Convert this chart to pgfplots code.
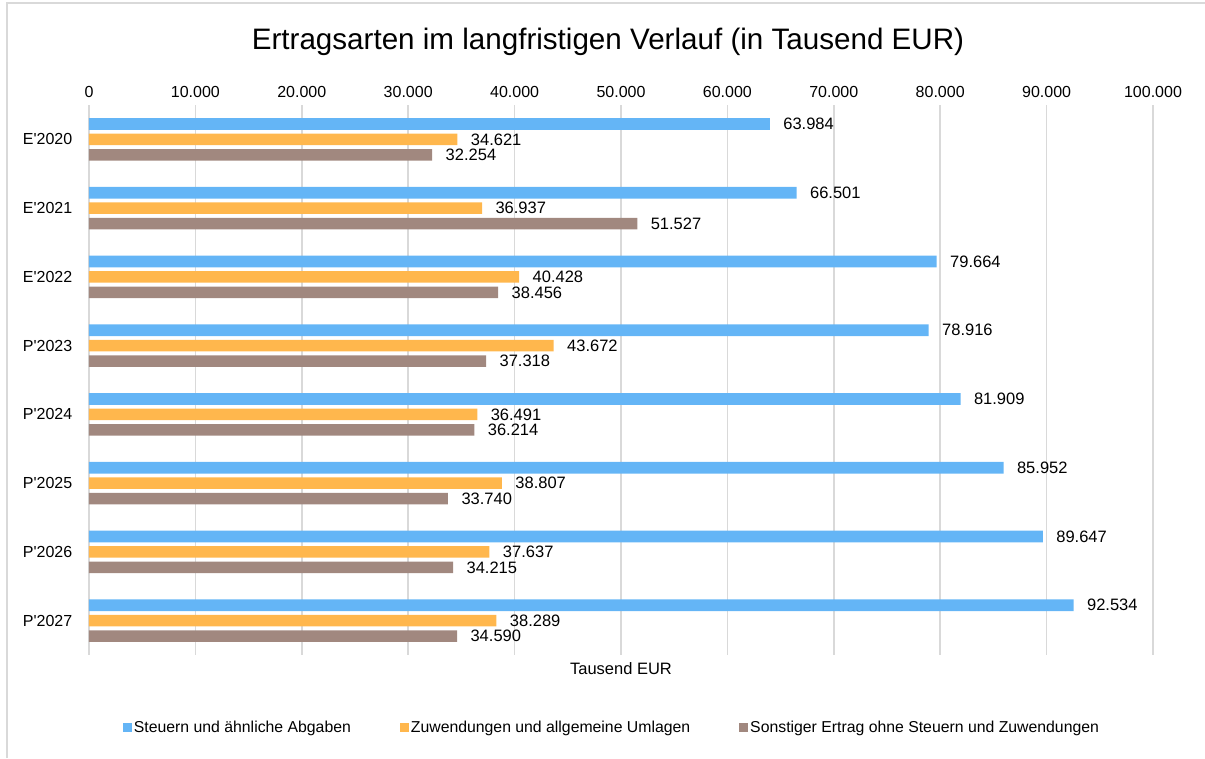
\documentclass[border=0pt]{standalone}
\usepackage{pgfplots}
\pgfplotsset{compat=1.18}
\usepackage{fontspec}
\setmainfont{Liberation Sans}
\definecolor{cblue}{HTML}{64B5F6}
\definecolor{corange}{HTML}{FFB74D}
\definecolor{cbrown}{HTML}{A1887F}
\definecolor{gridgray}{HTML}{D9D9D9}
\newcommand{\fs}{\fontsize{16.5}{19}\selectfont}
\newcommand{\fst}{\fontsize{16}{19}\selectfont}
\newcommand{\fsl}{\fontsize{15.8}{19}\selectfont}
\begin{document}
\begin{tikzpicture}
\begin{axis}[
  name=ax,
  scale only axis, width=1064pt, height=550pt,
  xbar, xmin=0, xmax=100000, ymin=-0.5, ymax=7.5, y dir=reverse,
  xtick={0,10000,...,100000}, xticklabel pos=upper,
  scaled x ticks=false,
  /pgf/number format/.cd, 1000 sep={.}, fixed, assume math mode=true, /pgfplots/.cd,
  xmajorgrids, major grid style={color=gridgray, line width=1.5pt},
  axis line style={draw=none}, tick style={draw=none},
  ytick={0,...,7},
  yticklabels={E\textquotesingle 2020,E\textquotesingle 2021,E\textquotesingle 2022,P\textquotesingle 2023,P\textquotesingle 2024,P\textquotesingle 2025,P\textquotesingle 2026,P\textquotesingle 2027},
  ticklabel style={font=\fst},
  xticklabel style={yshift=4pt},
  yticklabel style={xshift=-9pt},
  bar width=0.17,
  xlabel={Tausend EUR},
  xlabel style={at={(axis description cs:0.5,0)}, anchor=north, yshift=-4pt, font=\fs},
  nodes near coords,
  nodes near coords style={anchor=west, xshift=10pt, font=\fs, text=black},
  legend columns=3,
  legend style={at={(axis description cs:0.4915,-0.1327)}, anchor=center, draw=none, font=\fsl,
    nodes={inner xsep=2pt},
    /tikz/every even column/.append style={column sep=47pt}},
  legend cell align=left,
  legend image code/.code={\fill[#1,draw=none] (0pt,-4.5pt) rectangle (9pt,4.5pt);},
  clip=false,
]
\addplot[fill=cblue, draw=none, bar shift=-0.225] coordinates {
(63984,0) (66501,1) (79664,2) (78916,3) (81909,4) (85952,5) (89647,6) (92534,7)};
\addplot[fill=corange, draw=none, bar shift=0] coordinates {
(34621,0) (36937,1) (40428,2) (43672,3) (36491,4) (38807,5) (37637,6) (38289,7)};
\addplot[fill=cbrown, draw=none, bar shift=0.225] coordinates {
(32254,0) (51527,1) (38456,2) (37318,3) (36214,4) (33740,5) (34215,6) (34590,7)};
\legend{Steuern und ähnliche Abgaben, Zuwendungen und allgemeine Umlagen, Sonstiger Ertrag ohne Steuern und Zuwendungen}
\coordinate (SW) at (axis description cs:0,0);
\end{axis}
\pgfresetboundingbox
\begin{scope}[shift={(SW)}, x=1pt, y=1pt]
\path[use as bounding box] (-89,-103) rectangle (1116,655);
\draw[gridgray, line width=1.5pt] (-82,-103) -- (-82,652) -- (1116,652);
\node[font=\fontsize{29.6}{34}\selectfont] at (519,613) {Ertragsarten im langfristigen Verlauf (in Tausend EUR)};
\end{scope}
\end{tikzpicture}
\end{document}
